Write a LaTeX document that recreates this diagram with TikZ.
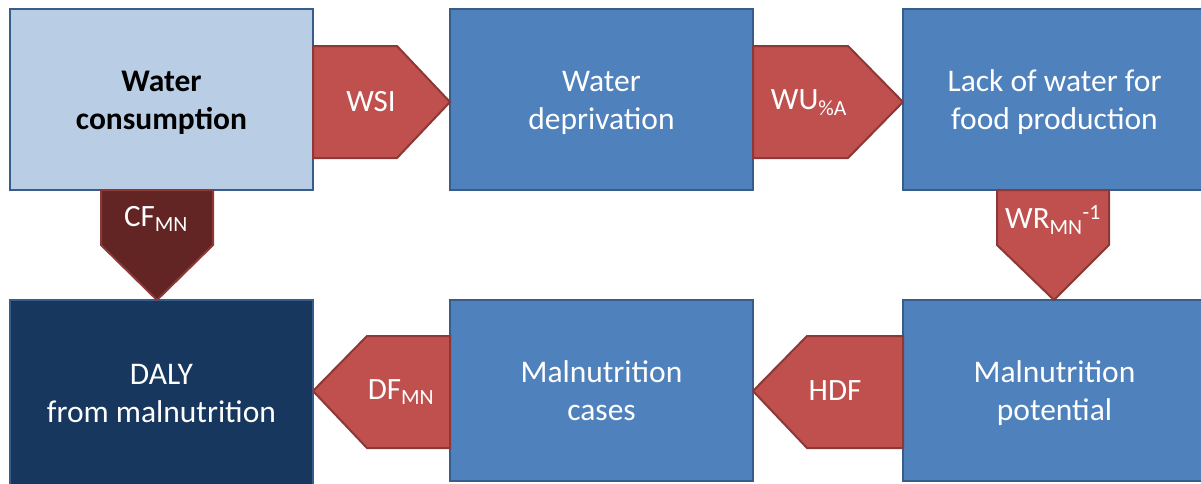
\documentclass[tikz,border=0pt]{standalone}
\usepackage{fontspec}
\setmainfont{Carlito}
\definecolor{lightbox}{HTML}{B9CDE5}
\definecolor{midbox}{HTML}{4F81BD}
\definecolor{darkbox}{HTML}{17375E}
\definecolor{boxline}{HTML}{385D8A}
\definecolor{arrowfill}{HTML}{C0504D}
\definecolor{arrowdark}{HTML}{632523}
\definecolor{arrowline}{HTML}{8C3836}
\newcommand\lowtext[1]{\raisebox{-3.5pt}[\height][\depth]{\begin{tabular}{@{}c@{}}#1\end{tabular}}}
\begin{document}
\begin{tikzpicture}[x=1pt,y=-1pt,
  box/.style={draw=boxline, line width=2pt, minimum width=303pt, minimum height=181pt,
    anchor=north west, inner sep=0pt, outer sep=0pt, align=center,
    font=\fontsize{31.5}{38}\selectfont, text=white},
  arrowshape/.style={fill=arrowfill, draw=arrowline, line width=2pt, line join=miter},
  lbl/.style={text=white, font=\fontsize{31}{36}\selectfont, inner sep=0pt}
]
\useasboundingbox (0,0) rectangle (1201,483);
\clip (0,0) rectangle (1201,483);

\node[box, fill=lightbox, text=black, font=\fontsize{31.5}{38}\selectfont\bfseries] (wc) at (10,9) {\lowtext{Water\\consumption}};
\node[box, fill=midbox] (wd) at (450,9) {\lowtext{Water\\deprivation}};
\node[box, fill=midbox] (lw) at (903,9) {\lowtext{Lack of water for\\food production}};
\node[box, fill=darkbox, line width=1.2pt, minimum height=186pt] (daly) at (10,300) {DALY\\from malnutrition};
\node[box, fill=midbox] (mc) at (450,300) {\lowtext{Malnutrition\\cases}};
\node[box, fill=midbox] (mp) at (903,300) {\lowtext{Malnutrition\\potential}};

% WSI
\draw[arrowshape] (wc.east |- 0,46) -- (397,46) -- (wd.west |- 0,102) -- (397,158) -- (wc.east |- 0,158) -- cycle;
\node[lbl] (wsi) at (371,102) {WSI};
% WU
\draw[arrowshape] (wd.east |- 0,46) -- (848,46) -- (lw.west |- 0,102) -- (848,158) -- (wd.east |- 0,158) -- cycle;
\node[lbl] (wu) at (809,103) {WU\textsubscript{\%A}};
% CF
\draw[arrowshape, fill=arrowdark] (101,0 |- wc.south) -- (213,0 |- wc.south) -- (213,245) -- (157,0 |- daly.north) -- (101,245) -- cycle;
\node[lbl] (cf) at (156,219) {CF\textsubscript{MN}};
% WR
\draw[arrowshape] (997,0 |- lw.south) -- (1109,0 |- lw.south) -- (1109,245) -- (1054,0 |- mp.north) -- (997,245) -- cycle;
\node[lbl] (wr) at (1053,220) {WR\textsubscript{MN}\textsuperscript{-1}};
% HDF
\draw[arrowshape] (mp.west |- 0,336) -- (807,336) -- (mc.east |- 0,391) -- (807,448) -- (mp.west |- 0,448) -- cycle;
\node[lbl] (hdf) at (835,391) {HDF};
% DF
\draw[arrowshape] (mc.west |- 0,336) -- (367,336) -- (daly.east |- 0,391) -- (367,448) -- (mc.west |- 0,448) -- cycle;
\node[lbl] (df) at (401,392) {DF\textsubscript{MN}};
\end{tikzpicture}
\end{document}
